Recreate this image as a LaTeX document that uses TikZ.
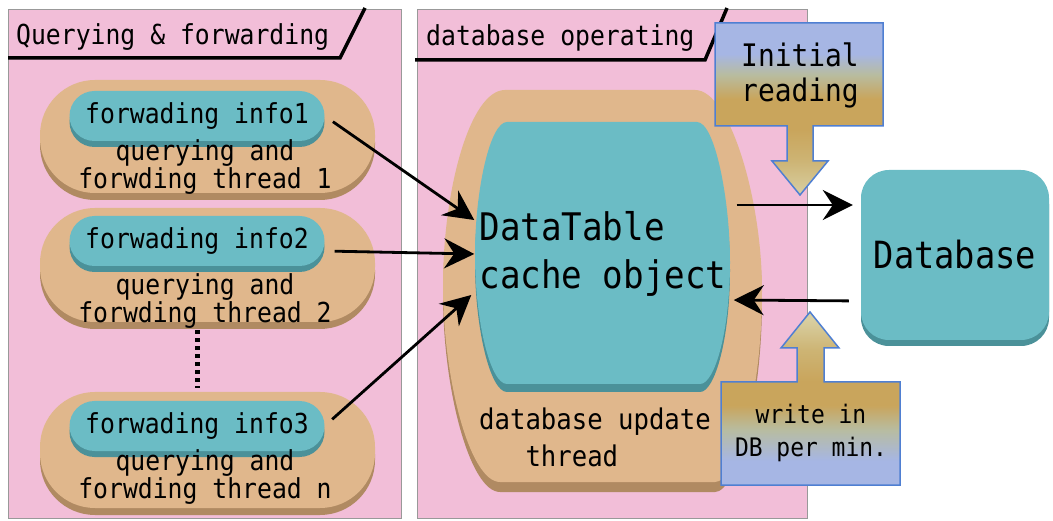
\documentclass[tikz,border=0pt]{standalone}
\usepackage{fontspec}
\setmainfont[FakeStretch=0.9]{DejaVu Sans Mono}
\usetikzlibrary{arrows.meta,shadows}

\definecolor{pannello}{HTML}{F2BED8}
\definecolor{sabbia}{HTML}{E0B78C}
\definecolor{sabbiascura}{HTML}{B08A62}
\definecolor{ciano}{HTML}{6BBCC5}
\definecolor{cianoscuro}{HTML}{4B9199}
\definecolor{bordoblu}{HTML}{4F7FD2}
\definecolor{azzurro}{HTML}{A6B6E4}
\definecolor{grigioverde}{HTML}{B8BCA0}
\definecolor{oro}{HTML}{C9A55C}
\definecolor{orochiaro}{HTML}{CDB474}
\definecolor{paglia}{HTML}{D8CFA2}

\pgfdeclareverticalshading{lettura}{100bp}{color(0bp)=(paglia); color(25bp)=(paglia);
  color(35bp)=(orochiaro); color(44bp)=(oro); color(53bp)=(oro); color(60bp)=(grigioverde);
  color(66bp)=(azzurro); color(75bp)=(azzurro); color(100bp)=(azzurro)}
\pgfdeclareverticalshading{scrittura}{100bp}{color(0bp)=(azzurro); color(25bp)=(azzurro);
  color(32bp)=(azzurro); color(41bp)=(grigioverde); color(48bp)=(oro); color(55bp)=(oro);
  color(64bp)=(orochiaro); color(73bp)=(paglia); color(100bp)=(paglia)}

\tikzset{
  panel/.style={fill=pannello, draw=gray!80, line width=1pt},
  tabline/.style={line width=3.5pt, line join=miter},
  tabtitle/.style={anchor=west, inner sep=0pt, font=\fontsize{27.5}{27.5}\selectfont},
  thread/.style={fill=sabbia, rounded corners=55pt, minimum width=335pt, inner sep=0pt,
    drop shadow={shadow xshift=0pt, shadow yshift=-7pt, fill=sabbiascura, opacity=1}},
  pill/.style={fill=ciano, rounded corners=25pt, minimum width=255pt, minimum height=50pt,
    inner sep=0pt, font=\fontsize{27.5}{27.5}\selectfont,
    drop shadow={shadow xshift=0pt, shadow yshift=-6pt, fill=cianoscuro, opacity=1}},
  threadtext/.style={align=center, inner sep=0pt, font=\fontsize{27.5}{20}\selectfont},
  flow/.style={line width=2.8pt, -{Stealth[length=30pt,width=30pt,inset=10pt]}},
  callout/.style={draw=bordoblu, line width=1.5pt, line join=miter},
  callouttext/.style={align=center, inner sep=0pt},
  dbbox/.style={fill=ciano, rounded corners=28pt, minimum width=188pt, minimum height=170pt,
    font=\fontsize{37.5}{37.5}\selectfont,
    drop shadow={shadow xshift=0pt, shadow yshift=-6pt, fill=cianoscuro, opacity=1}}
}

\begin{document}
\begin{tikzpicture}[x=1pt, y=-1pt]
    \useasboundingbox (0,0) rectangle (1053,521);

    % Pannelli
    \draw[panel] (8,10) rectangle (401,518);
    \draw[panel] (417,10) rectangle (807,518);

    % Titoli dei pannelli
    \node[tabtitle] (qtitle) at (16,37) {Querying \& forwarding};
    \draw[tabline] (8,58) -- (340,58) -- (365,8);
    \node[tabtitle] (dtitle) at (426,38) {database operating};
    \draw[tabline] (415,60) -- (705,60) -- (727,8);

    % Thread di interrogazione e inoltro
    \node[thread, minimum height=113pt] (thread1) at (207.5,136.5) {};
    \node[thread, minimum height=114pt] (thread2) at (207.5,265) {};
    \node[thread, minimum height=116pt] (threadn) at (207.5,450) {};

    \node[pill] (info1) at (197,116) {forwading info1};
    \node[pill] (info2) at (197,241) {forwading info2};
    \node[pill] (info3) at (197,426) {forwading info3};

    \node[threadtext] (lab1) at (205,167) {querying and\\forwding thread 1};
    \node[threadtext] (lab2) at (205,301) {querying and\\forwding thread 2};
    \node[threadtext] (labn) at (205,477) {querying and\\forwding thread n};

    % Puntini verticali
    \draw[line width=5pt, dash pattern=on 4pt off 4pt, shorten <=8pt, shorten >=4pt]
        ([xshift=-10pt]thread2.south) -- ([xshift=-10pt]threadn.north);

    % Thread di aggiornamento (forma esterna)
    \fill[sabbiascura, yshift=-10pt] (505,90) -- (695,90) .. controls (730,90) and (762,200) .. (762,290)
        .. controls (762,400) and (735,482) .. (715,482) -- (500,482)
        .. controls (470,482) and (443,380) .. (443,285) .. controls (443,190) and (470,90) .. (505,90) -- cycle;
    \fill[sabbia] (505,90) -- (695,90) .. controls (730,90) and (762,200) .. (762,290)
        .. controls (762,400) and (735,482) .. (715,482) -- (500,482)
        .. controls (470,482) and (443,380) .. (443,285) .. controls (443,190) and (470,90) .. (505,90) -- cycle;

    % Oggetto cache
    \fill[cianoscuro, yshift=-8pt] (507,122) -- (697,122) .. controls (715,122) and (730,200) .. (730,262)
        .. controls (730,330) and (715,384) .. (700,384) -- (507,384)
        .. controls (490,384) and (475,320) .. (475,255) .. controls (475,190) and (490,122) .. (507,122) -- cycle;
    \fill[ciano] (507,122) -- (697,122) .. controls (715,122) and (730,200) .. (730,262)
        .. controls (730,330) and (715,384) .. (700,384) -- (507,384)
        .. controls (490,384) and (475,320) .. (475,255) .. controls (475,190) and (490,122) .. (507,122) -- cycle;

    \node[align=left, inner sep=0pt, font=\fontsize{38}{48}\selectfont] (cache) at (603,254) {DataTable\\cache object};
    \node[align=left, inner sep=0pt, font=\fontsize{28.5}{37}\selectfont] (update) at (595,437)
        {database update\\\hphantom{dat}thread};

    % Database
    \node[dbbox] (db) at (955,255) {Database};

    % Richiami
    \shade[callout, shading=lettura]
        (715,23) -- (883,23) -- (883,126) -- (813,126) -- (813,161) -- (828,161) -- (800,195)
        -- (772,161) -- (787,161) -- (787,126) -- (715,126) -- cycle;
    \node[callouttext, font=\fontsize{31}{35}\selectfont] (initial) at (800,75) {Initial\\reading};

    \shade[callout, shading=scrittura]
        (721,382) -- (797,382) -- (797,348) -- (781,348) -- (810,312) -- (839,348) -- (824,348)
        -- (824,382) -- (900,382) -- (900,485) -- (721,485) -- cycle;
    \node[callouttext, font=\fontsize{25.5}{33}\selectfont] (writein) at (811,433) {write in\\DB per min.};

    % Frecce
    \draw[flow, shorten <=10pt] (info1.east) -- ([xshift=-5pt,yshift=34pt]cache.west);
    \draw[flow, shorten <=10pt] ([yshift=-10pt]info2.east) -- ([xshift=-5pt]cache.west);
    \draw[flow, shorten <=10pt] (info3.east) -- ([xshift=-8pt,yshift=-41pt]cache.west);
    \draw[flow, shorten >=8pt] ([xshift=10pt,yshift=49pt]cache.east) -- ([yshift=50pt]db.west);
    \draw[flow, shorten <=12pt] ([yshift=-46pt]db.west) -- ([xshift=7pt,yshift=-46pt]cache.east);
\end{tikzpicture}
\end{document}
